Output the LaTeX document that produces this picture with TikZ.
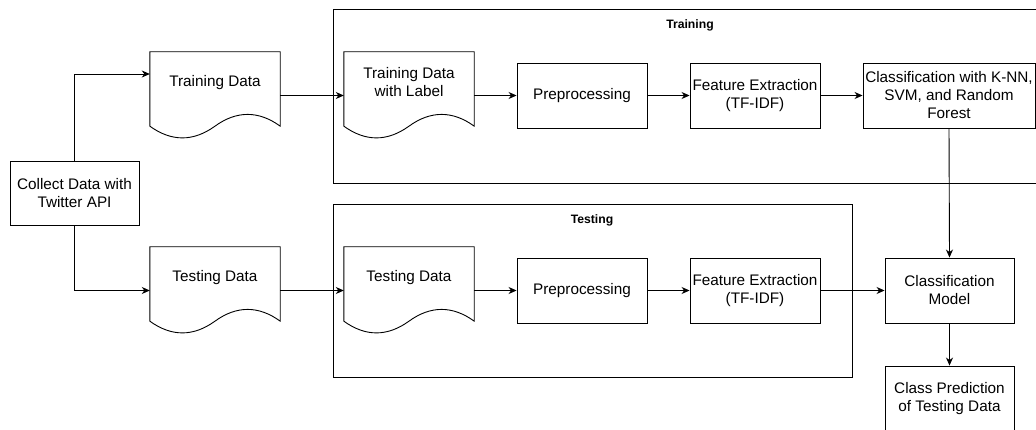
\documentclass[tikz,border=0pt]{standalone}
\usepackage{fontspec}
\setmainfont{Liberation Sans}
\usetikzlibrary{arrows.meta}
\tikzset{
  line/.style={draw=black, line width=0.9pt},
  arr/.style={line, -{Stealth[length=8pt,width=7pt,inset=2.5pt]}},
  box/.style={line, minimum width=130pt, minimum height=65pt, inner sep=0pt, align=center, font=\fontsize{15.3}{18}\selectfont},
  docshape/.style={minimum width=130pt, minimum height=87pt, inner sep=0pt},
  doclabel/.style={anchor=center, yshift=-30.5pt, align=center, inner sep=0pt, font=\fontsize{15.3}{18}\selectfont},
  frame/.style={line, inner sep=0pt, anchor=north west},
  framelabel/.style={font=\fontsize{12.2}{14}\selectfont\bfseries, inner sep=0pt}
}
\newcommand\docoutline[1]{%
  \draw[line] (#1.north west) -- (#1.north east) -- ([yshift=13.05pt]#1.south east)
    .. controls ([xshift=-21.67pt,yshift=28.71pt]#1.south east) and ([xshift=21.67pt,yshift=28.71pt]#1.south) .. ([yshift=13.05pt]#1.south)
    .. controls ([xshift=-21.67pt,yshift=-2.61pt]#1.south) and ([xshift=21.67pt,yshift=-2.61pt]#1.south west) .. ([yshift=13.05pt]#1.south west)
    -- cycle;}
\begin{document}
\begin{tikzpicture}[x=1pt,y=-1pt]
\clip (0,0) rectangle (1036,430);
\fill[white] (0,0) rectangle (1036,430);

% frames
\node[frame, minimum width=720pt, minimum height=174pt] (trainframe) at (333,9) {};
\node[framelabel] (trainlbl) at (690,25) {Training};
\node[frame, minimum width=519pt, minimum height=173pt] (testframe) at (333,204) {};
\node[framelabel] (testlbl) at (592,220) {Testing};

% nodes
\node[box, minimum width=129pt, minimum height=64pt] (collect) at (74.5,193) {Collect Data with\\Twitter API};
\node[docshape, label={[doclabel]north:Training Data}] (td) at (215,95.5) {};
\node[docshape, label={[doclabel]north:Testing Data}] (tsd) at (215,290.5) {};
\node[docshape, label={[doclabel]north:Training Data\\with Label}] (trl) at (409,95.5) {};
\node[box] (pre1) at (582,95.5) {Preprocessing};
\node[box] (fe1) at (755,95.5) {Feature Extraction\\(TF-IDF)};
\node[box, minimum width=172pt] (cls) at (949,95.5) {Classification with K-NN,\\SVM, and Random\\Forest};
\node[docshape, label={[doclabel]north:Testing Data}] (tsd2) at (409,290.5) {};
\node[box] (pre2) at (582,290.5) {Preprocessing};
\node[box] (fe2) at (755,290.5) {Feature Extraction\\(TF-IDF)};
\node[box, minimum width=129pt] (model) at (949.5,290.5) {Classification\\Model};
\node[box, minimum width=129pt] (pred) at (949.5,398.5) {Class Prediction\\of Testing Data};

\docoutline{td}
\docoutline{tsd}
\docoutline{trl}
\docoutline{tsd2}

% connectors
\draw[arr] (collect.north) |- ([yshift=21.5pt]td.west);
\draw[arr] (collect.south) |- (tsd.west);
\draw[arr] (td.east) -- (trl.west);
\draw[arr] (trl.east) -- (pre1.west);
\draw[arr] (pre1.east) -- (fe1.west);
\draw[arr] (fe1.east) -- (cls.west);
\draw[arr] (cls.south) -- (model.north);
\draw[arr] (tsd.east) -- (tsd2.west);
\draw[arr] (tsd2.east) -- (pre2.west);
\draw[arr] (pre2.east) -- (fe2.west);
\draw[arr] (fe2.east) -- (model.west);
\draw[arr] (model.south) -- (pred.north);
\end{tikzpicture}
\end{document}
